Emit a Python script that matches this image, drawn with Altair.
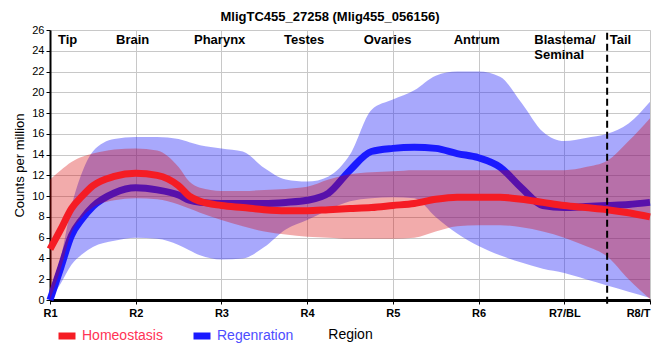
import altair as alt
import pandas as pd

# x positions along the body axis (1 = R1 ... 8 = R8/T)
x_grid = [1, 1.125, 1.25, 1.375, 1.5, 1.75, 2, 2.25, 2.5, 2.625, 2.75, 3, 3.25, 3.5, 3.75, 4,
          4.25, 4.5, 4.75, 5, 5.25, 5.5, 5.75, 6, 6.25, 6.5, 6.75, 7, 7.25, 7.5, 7.75, 8]

# Homeostasis
h_mean = [4.9, 6.8, 8.8, 10.0, 11.0, 11.9, 12.2, 12.0, 11.0, 10.0, 9.5, 9.1, 8.9, 8.7, 8.6, 8.6,
          8.7, 8.8, 8.9, 9.1, 9.3, 9.7, 9.9, 9.9, 9.9, 9.7, 9.4, 9.1, 8.9, 8.7, 8.4, 8.0]
h_lo = [0, 3.0, 6.5, 8.0, 8.9, 9.6, 9.8, 9.7, 9.2, 8.8, 8.4, 7.7, 7.1, 6.6, 6.3, 6.1,
        6.0, 5.9, 5.9, 5.9, 6.0, 6.6, 7.1, 7.2, 7.2, 7.0, 6.6, 6.0, 5.2, 4.2, 2.0, 0.1]
h_hi = [11.6, 12.5, 13.3, 13.8, 14.1, 14.5, 14.6, 14.4, 12.8, 11.4, 10.8, 10.5, 10.5, 10.6, 10.7, 10.9,
        11.6, 12.1, 12.3, 12.4, 12.5, 12.5, 12.5, 12.5, 12.5, 12.5, 12.5, 12.5, 12.8, 13.4, 15.3, 17.5]

# Regeneration
r_mean = [0, 3.1, 6.2, 7.8, 9.0, 10.3, 10.8, 10.6, 10.1, 9.6, 9.4, 9.3, 9.3, 9.3, 9.4, 9.6,
          10.3, 12.5, 14.3, 14.6, 14.7, 14.6, 14.1, 13.7, 12.8, 10.8, 9.1, 8.9, 9.0, 9.1, 9.2, 9.4]
r_lo = [0, 1.6, 3.4, 4.4, 5.1, 5.7, 6.0, 5.9, 5.3, 4.8, 4.3, 3.9, 4.0, 5.1, 6.8, 7.7,
        8.7, 9.5, 9.8, 9.9, 9.8, 8.0, 6.4, 5.2, 4.3, 3.6, 3.0, 2.6, 2.0, 1.4, 0.8, 0.2]
r_hi = [0.3, 4.0, 9.0, 12.3, 14.3, 15.5, 15.7, 15.7, 15.5, 15.2, 14.9, 14.6, 14.3, 12.7, 11.6, 11.4,
        11.9, 14.0, 18.3, 19.3, 20.2, 21.6, 22.0, 22.0, 21.5, 19.0, 16.2, 15.3, 15.6, 16.0, 17.0, 19.1]

series_names = ["Homeostasis", "Regenration"]
series_colors = ["#f51c24", "#1a1aff"]
label_colors = ["#ff3355", "#4d4dff"]

x_labels = ["R1", "R2", "R3", "R4", "R5", "R6", "R7/BL", "R8/T"]
y_ticks = [0, 2, 4, 6, 8, 10, 12, 14, 16, 18, 20, 22, 24, 26]

region_names = ["Tip", "Brain", "Pharynx", "Testes", "Ovaries", "Antrum", "Blastema/\nSeminal", "Tail"]
region_x = [1.093, 1.77, 2.68, 3.73, 4.66, 5.71, 6.65, 7.53]
region_y = [25] * len(region_names)

divider_x = [7.5]

title_text = "MligTC455_27258 (Mlig455_056156)"

FONT = "Liberation Sans"

h_df = pd.DataFrame({"x": x_grid, "mean": h_mean, "lo": h_lo, "hi": h_hi, "series": series_names[0]})
r_df = pd.DataFrame({"x": x_grid, "mean": r_mean, "lo": r_lo, "hi": r_hi, "series": series_names[1]})

label_expr = "[" + ",".join("'" + s + "'" for s in x_labels) + "][datum.value - 1]"

x_enc = alt.X("x:Q", scale=alt.Scale(domain=[1, 8], nice=False),
              axis=alt.Axis(values=list(range(1, 9)), labelExpr=label_expr, title="Region",
                            labelFontWeight="bold", labelFontSize=11, labelFont=FONT,
                            labelColor="black", labelPadding=3, tickSize=4, tickColor="black",
                            labelAlign=alt.ExprRef(expr="datum.value == 8 ? 'right' : 'center'"),
                            domainColor="black", domainWidth=3, titleFont=FONT, titleFontSize=14,
                            titleFontWeight="normal", titleColor="black", titlePadding=9,
                            gridColor="#c8c8c8", gridWidth=1, labelOverlap=False, labelFlush=False))
y_scale = alt.Scale(domain=[0, 26], nice=False, zero=False)
y_axis = alt.Axis(values=y_ticks, tickCount=len(y_ticks), title="Counts per million",
                  labelFontSize=11, labelFont=FONT, labelColor="black", labelPadding=2, tickSize=4,
                  tickColor="black", domainColor="black", domainWidth=2, titleFont=FONT,
                  titleFontSize=13, titleFontWeight="normal", titleColor="black", titlePadding=5,
                  gridColor="#c8c8c8", gridWidth=1, labelOverlap=False, labelFlush=False,
                  labelBound=False)

color_scale = alt.Scale(domain=series_names, range=series_colors)
legend = alt.Legend(title=None, orient="none", legendX=5, legendY=294, direction="horizontal",
                    symbolType="stroke", symbolStrokeWidth=7, symbolSize=289, labelFontSize=14,
                    labelFont=FONT, labelOffset=3, columnPadding=16,
                    labelColor=alt.ExprRef(expr="datum.label == '" + series_names[0] + "' ? '" +
                                           label_colors[0] + "' : '" + label_colors[1] + "'"))

r_band = alt.Chart(r_df).mark_area(interpolate="monotone", color="#2525f7", opacity=0.4).encode(
    x=x_enc, y=alt.Y("lo:Q", scale=y_scale, axis=y_axis), y2="hi:Q")
r_line = alt.Chart(r_df).mark_line(interpolate="monotone", strokeWidth=7).encode(
    x="x:Q", y=alt.Y("mean:Q", axis=y_axis),
    color=alt.Color("series:N", scale=color_scale, legend=legend))
h_band = alt.Chart(h_df).mark_area(interpolate="monotone", color="#d70000", opacity=0.33).encode(
    x="x:Q", y=alt.Y("lo:Q", axis=y_axis), y2="hi:Q")
h_line = alt.Chart(h_df).mark_line(interpolate="monotone", strokeWidth=7).encode(
    x="x:Q", y=alt.Y("mean:Q", axis=y_axis),
    color=alt.Color("series:N", scale=color_scale, legend=legend))

div_df = pd.DataFrame({"x": divider_x, "y0": [-0.35], "y1": [26]})
divider = alt.Chart(div_df).mark_rule(color="black", strokeWidth=2, strokeDash=[7, 4]).encode(
    x="x:Q", y=alt.Y("y0:Q", axis=y_axis), y2="y1:Q")

reg_df = pd.DataFrame({"x": region_x, "y": region_y, "name": region_names})
reg_text = alt.Chart(reg_df).mark_text(align="left", baseline="middle", font=FONT, fontSize=13,
                                       fontWeight="bold", color="black", lineBreak="\n",
                                       lineHeight=15).encode(
    x="x:Q", y=alt.Y("y:Q", axis=y_axis), text="name:N")

chart = alt.layer(r_band, r_line, h_band, h_line, divider, reg_text).properties(
    width=600, height=270,
    title=alt.TitleParams(title_text, font=FONT, fontSize=13, fontWeight="bold", color="black",
                          anchor="middle", dx=-20, offset=0),
    autosize=alt.AutoSizeParams(type="none"),
    padding={"left": 42, "top": 22, "right": 2, "bottom": 50},
).configure_view(stroke="black", strokeWidth=1.5).configure_axisY(
    labelOverlap=False).configure(background="white")

chart.save("out.html", embed_options={"renderer": "svg", "actions": False})
